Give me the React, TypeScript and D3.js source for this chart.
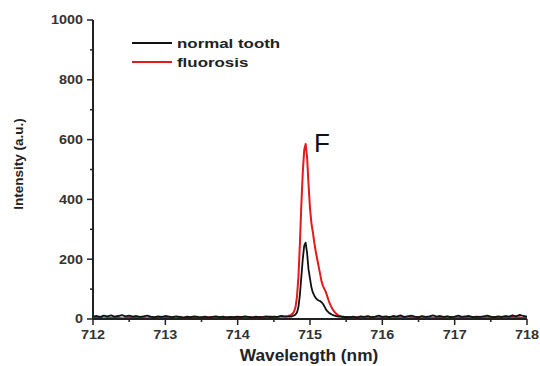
import React from "react";
import * as d3 from "d3";

// Wavelength grid (nm): coarse on the baseline, finer across the emission line
const wlBaseLeft = d3.range(0, 54).map((i) => 712 + i * 0.05);
const wlPeak = d3.range(0, 41).map((i) => 714.7 + i * 0.02);
const wlBaseRight = d3.range(0, 50).map((i) => 715.55 + i * 0.05);
const wavelengths = [...wlBaseLeft, ...wlPeak, ...wlBaseRight];

// Intensity (a.u.) for the normal tooth
const normalLeft = [8,10,7,11,9,12,8,10,13,9,11,8,10,7,9,11,8,6,9,7,10,8,6,9,7,5,8,6,9,7,6,8,5,7,9,6,8,5,7,6,8,6,9,7,5,8,6,7,9,6,8,7,10,8];
const normalPeak = [8,9,8,10,12,15,22,40,80,140,200,245,255,220,165,135,105,88,78,70,65,62,60,56,50,42,32,26,21,18,15,13,11,10,9,8,9,7,8,6,7];
const normalRight = [6,8,5,9,7,10,6,8,11,7,9,6,10,8,12,7,9,11,8,6,10,7,9,12,8,10,7,9,6,8,11,7,9,10,6,8,7,9,11,8,6,9,7,10,8,12,9,14,10,8];
const normalTooth = [...normalLeft, ...normalPeak, ...normalRight];

// Intensity (a.u.) for the fluorosis tooth
const fluorLeft = [4,3,5,2,4,3,5,4,2,3,5,4,3,6,4,2,5,3,4,6,3,5,4,2,5,3,6,4,3,5,2,4,6,3,5,4,3,6,4,5,3,7,4,5,6,4,7,5,6,8,6,7,9,8];
const fluorPeak = [10,12,14,18,25,40,75,140,250,380,490,565,585,540,450,370,320,290,255,225,200,175,150,125,110,100,90,75,60,48,38,30,24,18,14,11,9,8,7,6,6];
const fluorRight = [5,4,6,3,5,7,4,6,3,5,4,7,5,3,6,4,8,5,3,6,4,5,7,3,6,4,5,8,4,6,3,5,7,4,6,5,3,6,4,7,5,3,6,4,5,7,4,6,3,5];
const fluorosis = [...fluorLeft, ...fluorPeak, ...fluorRight];

const xTicks = [712, 713, 714, 715, 716, 717, 718];
const xMinor = [712.5, 713.5, 714.5, 715.5, 716.5, 717.5];
const yTicks = [0, 200, 400, 600, 800, 1000];
const yMinor = [100, 300, 500, 700, 900];

const seriesNames = ["normal tooth", "fluorosis"];
const seriesColors = ["#111111", "#e3191c"];

export default function App() {
  const width = 540;
  const height = 366;
  const margin = { left: 93, right: 13, top: 20, bottom: 47 };

  const x = d3.scaleLinear().domain([712, 718]).range([margin.left, width - margin.right]);
  const y = d3.scaleLinear().domain([0, 1000]).range([height - margin.bottom, margin.top]);

  const line = d3
    .line<[number, number]>()
    .x((d) => x(d[0]))
    .y((d) => y(d[1]));

  const normalPath = line(wavelengths.map((w, i) => [w, normalTooth[i]]) as [number, number][]) || "";
  const fluorPath = line(wavelengths.map((w, i) => [w, fluorosis[i]]) as [number, number][]) || "";

  const font = "'Liberation Sans', Arial, sans-serif";
  const axisColor = "#222";
  const x0 = x(712);
  const y0 = y(0);

  return (
    <svg width={width} height={height} style={{ position: "absolute", left: 0, top: 0, background: "#fff" }}>
      {/* data */}
      <path d={fluorPath} fill="none" stroke={seriesColors[1]} strokeWidth={2} strokeLinejoin="round" />
      <path d={normalPath} fill="none" stroke={seriesColors[0]} strokeWidth={1.8} strokeLinejoin="round" />

      {/* axes */}
      <line x1={x0} x2={x0} y1={y(1000)} y2={y0} stroke={axisColor} strokeWidth={2} />
      <line x1={x0} x2={x(718)} y1={y0} y2={y0} stroke={axisColor} strokeWidth={2} />

      {yTicks.map((t) => (
        <g key={"y" + t}>
          <line x1={x0 - 6} x2={x0} y1={y(t)} y2={y(t)} stroke={axisColor} strokeWidth={1.5} />
          <text
            transform={`translate(${x0 - 10},${y(t)}) scale(1.2,1)`}
            dy="0.36em"
            textAnchor="end"
            fontFamily={font}
            fontWeight="bold"
            fontSize={12}
            fill="#333"
          >
            {t}
          </text>
        </g>
      ))}
      {yMinor.map((t) => (
        <line key={"ym" + t} x1={x0 - 3} x2={x0} y1={y(t)} y2={y(t)} stroke={axisColor} strokeWidth={1.5} />
      ))}
      {xTicks.map((t) => (
        <g key={"x" + t}>
          <line x1={x(t)} x2={x(t)} y1={y0} y2={y0 + 6} stroke={axisColor} strokeWidth={1.5} />
          <text
            transform={`translate(${x(t)},${y0 + 20}) scale(1.2,1)`}
            textAnchor="middle"
            fontFamily={font}
            fontWeight="bold"
            fontSize={12}
            fill="#333"
          >
            {t}
          </text>
        </g>
      ))}
      {xMinor.map((t) => (
        <line key={"xm" + t} x1={x(t)} x2={x(t)} y1={y0} y2={y0 + 3} stroke={axisColor} strokeWidth={1.5} />
      ))}

      {/* axis titles */}
      <text
        transform="translate(309,361) scale(1.08,1)"
        textAnchor="middle"
        fontFamily={font}
        fontWeight="bold"
        fontSize={16}
        fill="#222"
      >
        Wavelength (nm)
      </text>
      <text
        transform="translate(23,164) rotate(-90)"
        textAnchor="middle"
        fontFamily={font}
        fontWeight="bold"
        fontSize={13.5}
        fill="#222"
      >
        Intensity (a.u.)
      </text>

      {/* peak annotation */}
      <text x={314} y={152} fontFamily={font} fontSize={26} fill="#111">
        F
      </text>

      {/* legend */}
      {seriesNames.map((name, i) => (
        <g key={name} transform={`translate(132,${43 + i * 19})`}>
          <line x1={0} x2={40} y1={0} y2={0} stroke={seriesColors[i]} strokeWidth={2} />
          <text
            transform="translate(45,0) scale(1.3,1)"
            dy="0.35em"
            fontFamily={font}
            fontWeight="bold"
            fontSize={13}
            fill="#222"
          >
            {name}
          </text>
        </g>
      ))}
    </svg>
  );
}
